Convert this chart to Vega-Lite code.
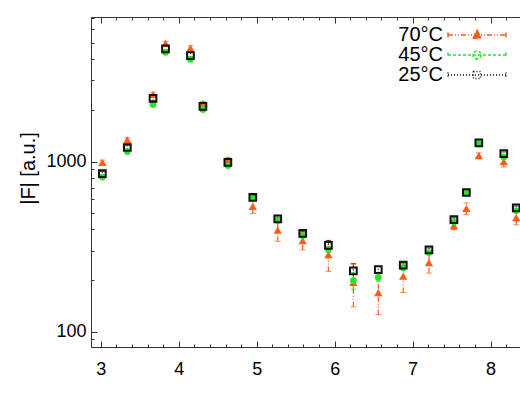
{
  "$schema": "https://vega.github.io/schema/vega-lite/v6.json",
  "width": 429,
  "height": 330,
  "autosize": {"type": "none"},
  "padding": {"left": 91, "top": 17, "right": 0, "bottom": 56},
  "background": "white",
  "config": {
    "view": {"stroke": null},
    "axis": {"labelFont": "Liberation Sans", "titleFont": "Liberation Sans", "labelColor": "#000", "titleColor": "#000", "domainColor": "#333", "tickColor": "#333", "grid": false, "titleFontWeight": "normal", "labelFlush": false},
    "legend": {"orient": "none", "legendX": 376, "legendY": 8, "title": null, "padding": 0, "rowPadding": 0, "labelFontSize": 20, "labelFont": "Liberation Sans", "labelColor": "#000", "labelAlign": "right", "labelOffset": -44, "symbolOffset": 0, "symbolSize": 100, "symbolStrokeWidth": 1.5}
  },
  "data": {"values": [
    {"T":"70°C","l":3.02,"F":990,"lo":960,"hi":1020},
    {"T":"70°C","l":3.34,"F":1340,"lo":1300,"hi":1380},
    {"T":"70°C","l":3.67,"F":2480,"lo":2400,"hi":2560},
    {"T":"70°C","l":3.83,"F":4950,"lo":4800,"hi":5100},
    {"T":"70°C","l":4.15,"F":4650,"lo":4500,"hi":4800},
    {"T":"70°C","l":4.31,"F":2190,"lo":2120,"hi":2260},
    {"T":"70°C","l":4.63,"F":1025,"lo":990,"hi":1060},
    {"T":"70°C","l":4.95,"F":545,"lo":495,"hi":595},
    {"T":"70°C","l":5.27,"F":395,"lo":340,"hi":450},
    {"T":"70°C","l":5.59,"F":343,"lo":303,"hi":383},
    {"T":"70°C","l":5.92,"F":284,"lo":226,"hi":342},
    {"T":"70°C","l":6.24,"F":195,"lo":140,"hi":250},
    {"T":"70°C","l":6.56,"F":170,"lo":126,"hi":214},
    {"T":"70°C","l":6.88,"F":212,"lo":170,"hi":254},
    {"T":"70°C","l":7.21,"F":255,"lo":221,"hi":289},
    {"T":"70°C","l":7.53,"F":420,"lo":398,"hi":442},
    {"T":"70°C","l":7.69,"F":530,"lo":488,"hi":572},
    {"T":"70°C","l":7.85,"F":1085,"lo":1045,"hi":1125},
    {"T":"70°C","l":8.17,"F":1000,"lo":930,"hi":1070},
    {"T":"70°C","l":8.33,"F":469,"lo":425,"hi":513},
    {"T":"45°C","l":3.02,"F":811,"lo":790,"hi":832},
    {"T":"45°C","l":3.34,"F":1145,"lo":1115,"hi":1175},
    {"T":"45°C","l":3.67,"F":2165,"lo":2110,"hi":2220},
    {"T":"45°C","l":3.83,"F":4400,"lo":4250,"hi":4550},
    {"T":"45°C","l":4.15,"F":4000,"lo":3850,"hi":4150},
    {"T":"45°C","l":4.31,"F":2025,"lo":1975,"hi":2075},
    {"T":"45°C","l":4.63,"F":948,"lo":925,"hi":971},
    {"T":"45°C","l":4.95,"F":605,"lo":590,"hi":620},
    {"T":"45°C","l":5.27,"F":450,"lo":438,"hi":462},
    {"T":"45°C","l":5.59,"F":367,"lo":357,"hi":377},
    {"T":"45°C","l":5.92,"F":305,"lo":292,"hi":318},
    {"T":"45°C","l":6.24,"F":200,"lo":178,"hi":222},
    {"T":"45°C","l":6.56,"F":208,"lo":198,"hi":218},
    {"T":"45°C","l":6.88,"F":238,"lo":230,"hi":246},
    {"T":"45°C","l":7.21,"F":292,"lo":284,"hi":300},
    {"T":"45°C","l":7.53,"F":443,"lo":432,"hi":454},
    {"T":"45°C","l":7.69,"F":665,"lo":650,"hi":680},
    {"T":"45°C","l":7.85,"F":1270,"lo":1240,"hi":1300},
    {"T":"45°C","l":8.17,"F":1065,"lo":1040,"hi":1090},
    {"T":"45°C","l":8.33,"F":515,"lo":502,"hi":528},
    {"T":"25°C","l":3.02,"F":850,"lo":825,"hi":875},
    {"T":"25°C","l":3.34,"F":1210,"lo":1180,"hi":1240},
    {"T":"25°C","l":3.67,"F":2350,"lo":2290,"hi":2410},
    {"T":"25°C","l":3.83,"F":4600,"lo":4350,"hi":4850},
    {"T":"25°C","l":4.15,"F":4200,"lo":3950,"hi":4450},
    {"T":"25°C","l":4.31,"F":2110,"lo":2060,"hi":2160},
    {"T":"25°C","l":4.63,"F":990,"lo":965,"hi":1015},
    {"T":"25°C","l":4.95,"F":617,"lo":602,"hi":632},
    {"T":"25°C","l":5.27,"F":460,"lo":448,"hi":472},
    {"T":"25°C","l":5.59,"F":379,"lo":369,"hi":389},
    {"T":"25°C","l":5.92,"F":322,"lo":300,"hi":344},
    {"T":"25°C","l":6.24,"F":228,"lo":205,"hi":251},
    {"T":"25°C","l":6.56,"F":232,"lo":222,"hi":242},
    {"T":"25°C","l":6.88,"F":246,"lo":238,"hi":254},
    {"T":"25°C","l":7.21,"F":303,"lo":295,"hi":311},
    {"T":"25°C","l":7.53,"F":456,"lo":445,"hi":467},
    {"T":"25°C","l":7.69,"F":658,"lo":643,"hi":673},
    {"T":"25°C","l":7.85,"F":1290,"lo":1260,"hi":1320},
    {"T":"25°C","l":8.17,"F":1115,"lo":1090,"hi":1140},
    {"T":"25°C","l":8.33,"F":535,"lo":522,"hi":548}
  ]},
  "layer": [
    {
      "transform": [{"filter": "datum.T === '70°C'"}],
      "mark": {"type": "rule", "strokeWidth": 1.2, "stroke": "#ff5b1a", "strokeDash": [5,2,1,2,1,2]},
      "encoding": {
        "x": {"field": "l", "type": "quantitative", "scale": {"domain": [2.874, 8.378], "nice": false, "zero": false},
          "axis": {"orient": "bottom", "values": [3,4,5,6,7,8], "format": "d", "tickSize": -6, "labelPadding": 19, "labelFontSize": 18, "title": "l", "titleFontSize": 21, "titleFontStyle": "italic", "titleBaseline": "alphabetic", "titleY": 389, "titleX": 219}},
        "y": {"field": "lo", "type": "quantitative", "scale": {"type": "log", "domain": [81.3, 7080], "nice": false},
          "axis": {"orient": "left", "values": [100, 1000], "format": "d", "tickSize": -6, "labelPadding": 11, "labelFontSize": 18, "title": "|F| [a.u.]", "titleFontSize": 20, "titleX": -63, "titleY": 151, "titleBaseline": "middle"}},
        "y2": {"field": "hi"}
      }
    },
    {
      "transform": [{"filter": "datum.T === '45°C'"}],
      "mark": {"type": "rule", "strokeWidth": 1.2, "stroke": "#22e822", "strokeDash": [3,2]},
      "encoding": {
        "x": {"field": "l", "type": "quantitative",
          "axis": {"orient": "bottom", "values": [3.2,3.4,3.6,3.8,4.2,4.4,4.6,4.8,5.2,5.4,5.6,5.8,6.2,6.4,6.6,6.8,7.2,7.4,7.6,7.8,8.2], "tickSize": -3, "labels": false, "domain": false, "title": null}},
        "y": {"field": "lo", "type": "quantitative",
          "axis": {"orient": "left", "values": [90,200,300,400,500,600,700,800,900,2000,3000,4000,5000,6000,7000], "tickSize": -3, "labels": false, "domain": false, "title": null}},
        "y2": {"field": "hi"}
      }
    },
    {
      "transform": [{"filter": "datum.T === '25°C'"}],
      "mark": {"type": "rule", "strokeWidth": 1.2, "stroke": "#111111", "strokeDash": [1,2]},
      "encoding": {
        "x": {"field": "l", "type": "quantitative",
          "axis": {"orient": "top", "values": [3,4,5,6,7,8], "tickSize": -6, "labels": false, "domain": true, "title": null}},
        "y": {"field": "lo", "type": "quantitative", "axis": null},
        "y2": {"field": "hi"}
      }
    },
    {
      "transform": [{"filter": "datum.T === '70°C'"}],
      "mark": {"type": "tick", "orient": "horizontal", "size": 6, "thickness": 1, "color": "#ff5b1a"},
      "encoding": {
        "x": {"field": "l", "type": "quantitative",
          "axis": {"orient": "top", "values": [3.2,3.4,3.6,3.8,4.2,4.4,4.6,4.8,5.2,5.4,5.6,5.8,6.2,6.4,6.6,6.8,7.2,7.4,7.6,7.8,8.2], "tickSize": -3, "labels": false, "domain": false, "title": null}},
        "y": {"field": "lo", "type": "quantitative", "axis": null}
      }
    },
    {
      "transform": [{"filter": "datum.T === '70°C'"}],
      "mark": {"type": "tick", "orient": "horizontal", "size": 6, "thickness": 1, "color": "#ff5b1a"},
      "encoding": {
        "x": {"field": "l", "type": "quantitative", "axis": null},
        "y": {"field": "hi", "type": "quantitative", "axis": null}
      }
    },
    {
      "transform": [{"filter": "datum.T === '45°C'"}],
      "mark": {"type": "tick", "orient": "horizontal", "size": 5, "thickness": 1, "color": "#22e822"},
      "encoding": {
        "x": {"field": "l", "type": "quantitative", "axis": null},
        "y": {"field": "lo", "type": "quantitative", "axis": null}
      }
    },
    {
      "transform": [{"filter": "datum.T === '45°C'"}],
      "mark": {"type": "tick", "orient": "horizontal", "size": 5, "thickness": 1, "color": "#22e822"},
      "encoding": {
        "x": {"field": "l", "type": "quantitative", "axis": null},
        "y": {"field": "hi", "type": "quantitative", "axis": null}
      }
    },
    {
      "transform": [{"filter": "datum.T === '25°C'"}],
      "mark": {"type": "tick", "orient": "horizontal", "size": 5, "thickness": 1, "color": "#111111"},
      "encoding": {
        "x": {"field": "l", "type": "quantitative", "axis": null},
        "y": {"field": "lo", "type": "quantitative", "axis": null}
      }
    },
    {
      "transform": [{"filter": "datum.T === '25°C'"}],
      "mark": {"type": "tick", "orient": "horizontal", "size": 5, "thickness": 1, "color": "#111111"},
      "encoding": {
        "x": {"field": "l", "type": "quantitative", "axis": null},
        "y": {"field": "hi", "type": "quantitative", "axis": null}
      }
    },
    {
      "transform": [{"filter": "datum.T === '70°C'"}],
      "mark": {"type": "point", "shape": "triangle-up", "filled": true, "color": "#ff5b1a", "size": 70, "opacity": 1},
      "encoding": {
        "x": {"field": "l", "type": "quantitative", "axis": null},
        "y": {"field": "F", "type": "quantitative", "axis": null}
      }
    },
    {
      "transform": [{"filter": "datum.T === '45°C'"}],
      "mark": {"type": "point", "shape": "circle", "filled": true, "color": "#22e822", "size": 45, "opacity": 1},
      "encoding": {
        "x": {"field": "l", "type": "quantitative", "axis": null},
        "y": {"field": "F", "type": "quantitative", "axis": null}
      }
    },
    {
      "transform": [{"filter": "datum.T === '25°C'"}],
      "mark": {"type": "point", "shape": "square", "filled": false, "stroke": "#111111", "strokeWidth": 2, "size": 45, "opacity": 1},
      "encoding": {
        "x": {"field": "l", "type": "quantitative", "axis": null},
        "y": {"field": "F", "type": "quantitative", "axis": null}
      }
    },
    {
      "transform": [{"filter": "false"}],
      "mark": {"type": "point", "filled": false, "strokeWidth": 1.5, "opacity": 1},
      "encoding": {
        "x": {"field": "l", "type": "quantitative", "axis": null},
        "y": {"field": "F", "type": "quantitative", "axis": null},
        "shape": {"field": "T", "type": "nominal", "scale": {"domain": ["70°C","45°C","25°C"], "range": ["M-5.8,0H5.8M-5.8,-0.5V0.5M5.8,-0.5V0.5M0,-0.95L0.9,0.65L-0.9,0.65Z", "M-5.8,0H5.8M-5.8,-0.5V0.5M5.8,-0.5V0.5M0.8,0A0.8,0.8,0,1,1,-0.8,0A0.8,0.8,0,1,1,0.8,0Z", "M-5.8,0H5.8M-5.8,-0.5V0.5M5.8,-0.5V0.5M-0.7,-0.7H0.7V0.7H-0.7Z"]}},
        "stroke": {"field": "T", "type": "nominal", "scale": {"domain": ["70°C","45°C","25°C"], "range": ["#ff5b1a","#22e822","#111111"]}},
        "fill": {"field": "T", "type": "nominal", "scale": {"domain": ["70°C","45°C","25°C"], "range": ["#ff5b1a","#ffffff","#ffffff"]}},
        "strokeDash": {"field": "T", "type": "nominal", "scale": {"domain": ["70°C","45°C","25°C"], "range": [[5,2,1,2,1,2],[3,2],[1,2]]}}
      }
    }
  ],
  "resolve": {"axis": {"x": "independent", "y": "independent"}}
}
